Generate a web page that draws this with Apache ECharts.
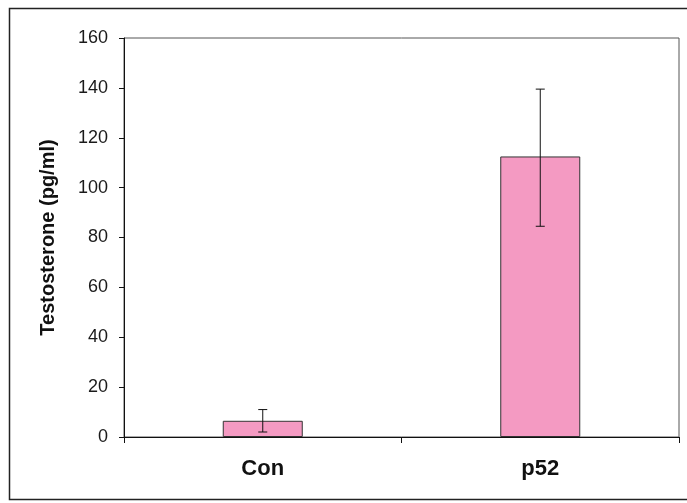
<!DOCTYPE html>
<html>
<head>
    <meta charset="utf-8">
    <script src="https://cdn.jsdelivr.net/npm/echarts@6/dist/echarts.min.js"></script>
    <style>
        html, body { margin: 0; padding: 0; background: #fff; }
        #main { width: 687px; height: 503px; }
    </style>
</head>
<body>
<div id="main"></div>
<script>
    // data
    var groups = ['Con', 'p52'];
    var means = [6.5, 112.5];
    var errLow = [2, 84.5];
    var errHigh = [11, 139.5];
    var yTicks = [0, 20, 40, 60, 80, 100, 120, 140, 160];

    var errData = groups.map(function (g, i) {
        return [i, errLow[i], errHigh[i]];
    });

    var chart = echarts.init(document.getElementById('main'));
    var option = {
        backgroundColor: '#fff',
        animation: false,
        graphic: [{
            type: 'rect',
            shape: { x: 9.5, y: 8.5, width: 700, height: 491 },
            style: { fill: 'none', stroke: '#222', lineWidth: 1.5 },
            silent: true
        }],
        grid: {
            left: 124, right: 8, top: 38, bottom: 66,
            show: true, borderColor: '#555', borderWidth: 1
        },
        xAxis: {
            type: 'category',
            data: groups,
            axisLine: { lineStyle: { color: '#111', width: 1 } },
            axisTick: { show: true, length: 6, alignWithLabel: false, lineStyle: { color: '#111' } },
            axisLabel: {
                margin: 21,
                fontFamily: 'Liberation Sans, Arial, sans-serif',
                fontWeight: 'bold', fontSize: 22, color: '#111'
            }
        },
        yAxis: {
            type: 'value',
            min: yTicks[0], max: yTicks[yTicks.length - 1], interval: 20,
            name: 'Testosterone (pg/ml)',
            nameLocation: 'middle',
            nameGap: 66,
            nameTextStyle: {
                fontFamily: 'Liberation Sans, Arial, sans-serif',
                fontWeight: 'bold', fontSize: 20, color: '#111'
            },
            axisLine: { show: true, lineStyle: { color: '#111', width: 1 } },
            axisTick: { show: true, length: 5, lineStyle: { color: '#111' } },
            splitLine: { show: false },
            axisLabel: {
                margin: 16,
                fontFamily: 'Liberation Sans, Arial, sans-serif',
                fontSize: 18, color: '#1a1a1a'
            }
        },
        series: [{
            type: 'bar',
            data: means,
            barWidth: 80,
            itemStyle: { color: '#f49ac2', borderColor: '#333', borderWidth: 1 }
        }, {
            type: 'custom',
            data: errData,
            z: 10,
            renderItem: function (params, api) {
                var x = api.value(0);
                var lo = api.coord([x, api.value(1)]);
                var hi = api.coord([x, api.value(2)]);
                var hw = 4.5;
                var st = { stroke: '#111', lineWidth: 1 };
                return {
                    type: 'group',
                    children: [
                        { type: 'line', shape: { x1: hi[0], y1: hi[1], x2: lo[0], y2: lo[1] }, style: st },
                        { type: 'line', shape: { x1: hi[0] - hw, y1: hi[1], x2: hi[0] + hw, y2: hi[1] }, style: st },
                        { type: 'line', shape: { x1: lo[0] - hw, y1: lo[1], x2: lo[0] + hw, y2: lo[1] }, style: st }
                    ]
                };
            }
        }]
    };
    chart.setOption(option);
</script>
</body>
</html>
